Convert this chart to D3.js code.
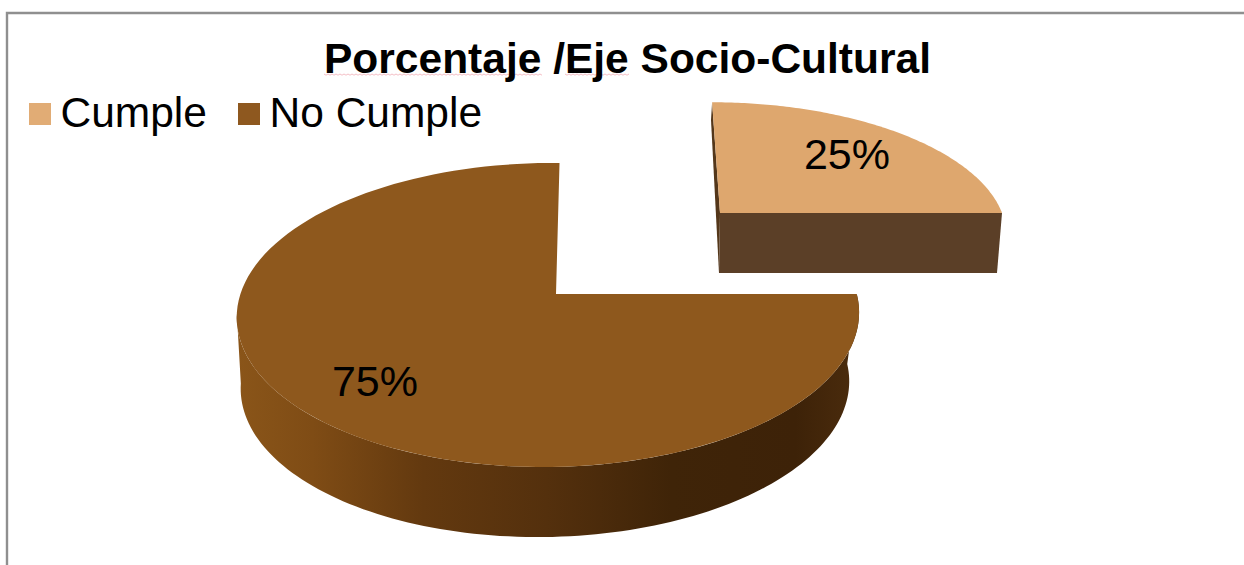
<!DOCTYPE html>
<html>
<head>
<meta charset="utf-8">
<script src="https://cdn.jsdelivr.net/npm/d3@7"></script>
<style>
html, body { margin: 0; padding: 0; background: #fff; }
svg { display: block; }
text { font-family: "Liberation Sans", Arial, sans-serif; fill: #000; }
</style>
</head>
<body>
<svg id="chart" width="1244" height="565"></svg>
<script>
const chartTitle = "Porcentaje /Eje Socio-Cultural";
const categories = ["Cumple", "No Cumple"];
const shares = [25, 75];
const faceColors = ["#DEA76E", "#8E581D"];
const swatchColors = ["#E1AC75", "#8E581F"];

const svg = d3.select("#chart");
const defs = svg.append("defs");

// Tilted-disc projection: unit circle to screen with a perspective divide.
function tilted({cx, cy, a, b, shear = 0, k = 0, m = 0}) {
  return angle => {
    const u = Math.sin(angle), v = -Math.cos(angle);
    const w = 1 + k * v + m * u;
    return [cx + (a * u + shear * v) / w, cy + (b * v) / w];
  };
}

const arcPoints = (project, from, to, n = 120) =>
  d3.range(n + 1).map(i => project(from + (to - from) * i / n));
const outline = d3.line();

const slices = d3.pie().sort(null).value(d => d)(shares);

// Side wall shading runs across the disc from left to right.
const wallStops = [
  [0, "#8A5519"], [0.12, "#7F4C15"], [0.3, "#63390F"], [0.5, "#54300D"],
  [0.7, "#3F2408"], [0.9, "#3D2208"], [1, "#4B2C0D"]
];
const wallGrad = defs.append("linearGradient").attr("id", "wallShade")
  .attr("gradientUnits", "userSpaceOnUse")
  .attr("x1", 238).attr("x2", 857).attr("y1", 0).attr("y2", 0);
wallGrad.selectAll("stop").data(wallStops).join("stop")
  .attr("offset", d => d[0]).attr("stop-color", d => d[1]);

// Large slice: top face and its lower rim.
const apex = [556, 294];
const mainFace = tilted({cx: apex[0], cy: apex[1], a: 308, b: 149.1, shear: -4, k: -0.138, m: 0.024});
const mainBase = tilted({cx: 555, cy: 364, a: 301, b: 149.1, shear: -6, k: -0.138, m: 0.03});
const mainSlice = slices[1];
const wallEnd = 1.46 * Math.PI;

svg.append("path")
  .attr("d", outline([
    ...arcPoints(mainFace, mainSlice.startAngle, wallEnd),
    ...arcPoints(mainBase, wallEnd, mainSlice.startAngle)
  ]) + "Z")
  .attr("fill", "url(#wallShade)");

svg.append("path")
  .attr("d", outline([
    apex,
    ...arcPoints(mainFace, mainSlice.startAngle, mainSlice.endAngle)
  ]) + "Z")
  .attr("fill", faceColors[1]);

// Pulled-out slice: inner wall, front wall, then top face.
const smallApex = [720, 213];
const smallFace = tilted({cx: smallApex[0], cy: smallApex[1], a: 282, b: 126, shear: 9, k: -0.138});
const smallSlice = slices[0];

svg.append("path")
  .attr("d", outline([smallFace(smallSlice.startAngle), smallApex, [719, 273], [711, 120]]) + "Z")
  .attr("fill", "#54371A");
svg.append("path")
  .attr("d", outline([smallApex, smallFace(smallSlice.endAngle), [997, 273], [719, 273]]) + "Z")
  .attr("fill", "#5B3F27");
svg.append("path")
  .attr("d", outline([
    smallApex,
    ...arcPoints(smallFace, smallSlice.startAngle, smallSlice.endAngle)
  ]) + "Z")
  .attr("fill", faceColors[0]);

// Value labels sit directly on the faces.
const valueLabels = [[847, 169], [375, 396]];
svg.selectAll("text.value").data(shares).join("text")
  .attr("class", "value")
  .attr("x", (d, i) => valueLabels[i][0])
  .attr("y", (d, i) => valueLabels[i][1])
  .attr("text-anchor", "middle")
  .attr("font-size", 43)
  .text(d => d + "%");

// Frame: open on the right, running off the edge.
svg.append("path")
  .attr("d", "M7,565V13H1244")
  .attr("fill", "none").attr("stroke", "#8F8F8F").attr("stroke-width", 2.4);

// Title with its faint spell-check squiggles
const squiggles = [[324, 542], [565, 630]];
svg.selectAll("path.squiggle").data(squiggles).join("path")
  .attr("class", "squiggle")
  .attr("d", ([x0, x1]) => outline(
    d3.range(x0, x1 + 1, 2).map((x, i) => [x, 74 + (i % 2) * 1.2])))
  .attr("fill", "none").attr("stroke", "#F5BFC6").attr("stroke-width", 1);

svg.append("text")
  .attr("x", 627.5).attr("y", 73)
  .attr("text-anchor", "middle")
  .attr("font-size", 42.5).attr("font-weight", "bold")
  .text(chartTitle);

// Legend
const legendX = [29, 238];
const legend = svg.selectAll("g.legend").data(categories).join("g")
  .attr("class", "legend")
  .attr("transform", (d, i) => `translate(${legendX[i]},103)`);
legend.append("rect")
  .attr("width", 22).attr("height", 22)
  .attr("fill", (d, i) => swatchColors[i]);
legend.append("text")
  .attr("x", 31.5).attr("y", 24)
  .attr("font-size", 42.5)
  .text(d => d);
</script>
</body>
</html>
